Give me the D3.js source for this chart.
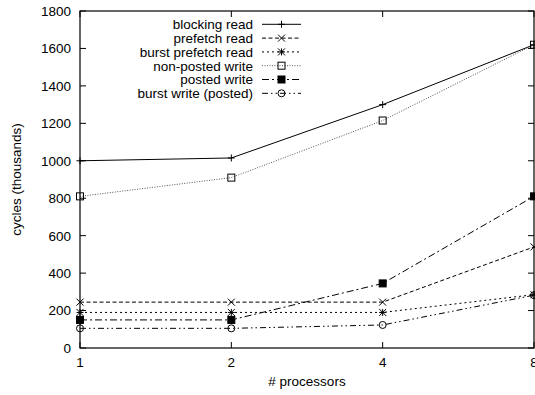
<!DOCTYPE html>
<html lang="en">
<head>
    <meta charset="UTF-8">
    <title>cycles vs processors</title>
    <script src="https://d3js.org/d3.v7.min.js"></script>
    <style>
        body { margin: 0; background: #fff; }
        text {
            font-family: "Liberation Sans", Arial, sans-serif;
            font-size: 13.5px;
            fill: #000;
        }
        .frame { fill: none; stroke: #000; stroke-width: 1.2; }
        .tick { stroke: #000; stroke-width: 1; }
    </style>
</head>
<body>
<script>
    var width = 535;
    var height = 395;

    // data
    var processors = [1, 2, 4, 8];
    var yTicks = [0, 200, 400, 600, 800, 1000, 1200, 1400, 1600, 1800];

    var seriesNames = ["blocking read", "prefetch read", "burst prefetch read",
        "non-posted write", "posted write", "burst write (posted)"];
    var blockingRead = [1000, 1015, 1300, 1620];
    var prefetchRead = [245, 245, 245, 540];
    var burstPrefetchRead = [190, 190, 190, 285];
    var nonPostedWrite = [810, 910, 1215, 1620];
    var postedWrite = [150, 150, 345, 810];
    var burstWritePosted = [105, 105, 123, 282];

    var seriesValues = [blockingRead, prefetchRead, burstPrefetchRead,
        nonPostedWrite, postedWrite, burstWritePosted];

    var styles = [
        {dash: null, color: "#000", marker: "plus"},
        {dash: "4,2.5", color: "#000", marker: "cross"},
        {dash: "2,3", color: "#000", marker: "star"},
        {dash: "1,1.5", color: "#555", marker: "square"},
        {dash: "7,3,2,3", color: "#000", marker: "fsquare"},
        {dash: "6,3,1.5,3,1.5,3", color: "#000", marker: "circle"}
    ];

    var margin = {left: 80, right: 1, top: 11, bottom: 47};

    var x = d3.scaleLog().base(2)
        .domain([1, 8])
        .range([margin.left, width - margin.right]);
    var y = d3.scaleLinear()
        .domain([0, 1800])
        .range([height - margin.bottom, margin.top]);

    var svg = d3.select("body").append("svg")
        .attr("width", width)
        .attr("height", height);

    var tl = 6;
    var g = svg.append("g");

    // y ticks (mirrored on both sides)
    yTicks.forEach(function (t) {
        g.append("line").attr("class", "tick")
            .attr("x1", x(1)).attr("x2", x(1) + tl)
            .attr("y1", y(t)).attr("y2", y(t));
        g.append("line").attr("class", "tick")
            .attr("x1", x(8)).attr("x2", x(8) - tl)
            .attr("y1", y(t)).attr("y2", y(t));
        g.append("text")
            .attr("x", x(1) - 9)
            .attr("y", y(t))
            .attr("dy", "0.36em")
            .attr("text-anchor", "end")
            .text(t);
    });

    // x ticks
    processors.forEach(function (p) {
        g.append("line").attr("class", "tick")
            .attr("x1", x(p)).attr("x2", x(p))
            .attr("y1", y(0)).attr("y2", y(0) - tl);
        g.append("line").attr("class", "tick")
            .attr("x1", x(p)).attr("x2", x(p))
            .attr("y1", y(1800)).attr("y2", y(1800) + tl);
        g.append("text")
            .attr("x", x(p))
            .attr("y", y(0) + 19)
            .attr("text-anchor", "middle")
            .text(p);
    });

    svg.append("text")
        .attr("x", 307)
        .attr("y", 386)
        .attr("text-anchor", "middle")
        .text("# processors");

    svg.append("text")
        .attr("transform", "translate(21," + ((y(0) + y(1800)) / 2) + ") rotate(-90)")
        .attr("text-anchor", "middle")
        .text("cycles (thousands)");

    function drawMarker(sel, type, cx, cy) {
        var s = 3.5;
        if (type === "plus") {
            sel.append("path").attr("d", "M" + (cx - s) + "," + cy + "h" + 2 * s + "M" + cx + "," + (cy - s) + "v" + 2 * s)
                .attr("stroke", "#000").attr("fill", "none");
        } else if (type === "cross") {
            sel.append("path").attr("d", "M" + (cx - s) + "," + (cy - s) + "l" + 2 * s + "," + 2 * s + "M" + (cx - s) + "," + (cy + s) + "l" + 2 * s + "," + (-2 * s))
                .attr("stroke", "#000").attr("fill", "none");
        } else if (type === "star") {
            sel.append("path").attr("d", "M" + (cx - s) + "," + cy + "h" + 2 * s + "M" + cx + "," + (cy - s) + "v" + 2 * s +
                "M" + (cx - s) + "," + (cy - s) + "l" + 2 * s + "," + 2 * s + "M" + (cx - s) + "," + (cy + s) + "l" + 2 * s + "," + (-2 * s))
                .attr("stroke", "#000").attr("fill", "none");
        } else if (type === "square" || type === "fsquare") {
            sel.append("rect").attr("x", cx - s).attr("y", cy - s)
                .attr("width", 2 * s).attr("height", 2 * s)
                .attr("stroke", "#000")
                .attr("fill", type === "fsquare" ? "#000" : "none");
        } else if (type === "circle") {
            sel.append("circle").attr("cx", cx).attr("cy", cy).attr("r", s)
                .attr("stroke", "#000").attr("fill", "none");
        }
    }

    var line = d3.line()
        .x(function (d) { return x(d[0]); })
        .y(function (d) { return y(d[1]); });

    seriesValues.forEach(function (vals, i) {
        var pts = processors.map(function (p, j) { return [p, vals[j]]; });
        var st = styles[i];
        var sg = svg.append("g");
        sg.append("path")
            .attr("d", line(pts))
            .attr("fill", "none")
            .attr("stroke", st.color)
            .attr("stroke-width", 1)
            .attr("stroke-dasharray", st.dash);
        pts.forEach(function (d) {
            drawMarker(sg, st.marker, x(d[0]), y(d[1]));
        });
    });

    // legend
    var legX = 253, legY = 24.3, legStep = 13.8;
    seriesNames.forEach(function (name, i) {
        var st = styles[i];
        var ly = legY + i * legStep;
        var lg = svg.append("g");
        lg.append("text")
            .attr("x", legX)
            .attr("y", ly)
            .attr("dy", "0.36em")
            .attr("text-anchor", "end")
            .text(name);
        lg.append("line")
            .attr("x1", 262).attr("x2", 301)
            .attr("y1", ly).attr("y2", ly)
            .attr("stroke", st.color)
            .attr("stroke-dasharray", st.dash);
        drawMarker(lg, st.marker, 281.5, ly);
    });

    svg.append("rect").attr("class", "frame")
        .attr("x", x(1)).attr("y", y(1800))
        .attr("width", x(8) - x(1))
        .attr("height", y(0) - y(1800));
</script>
</body>
</html>
